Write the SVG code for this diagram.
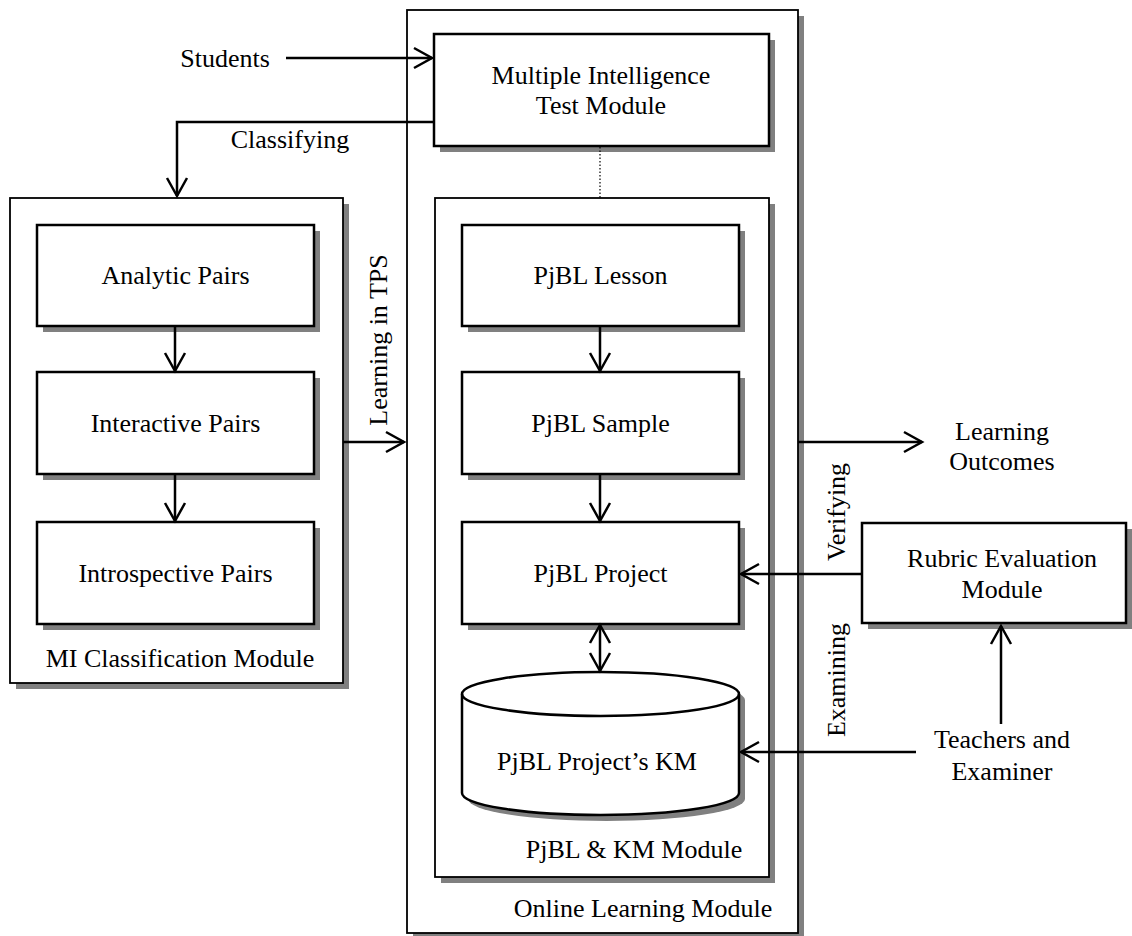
<svg xmlns="http://www.w3.org/2000/svg" width="1132" height="936" viewBox="0 0 1132 936">
<defs>
<style>
text{font-family:"Liberation Serif","Times New Roman",serif;font-size:26px;fill:#000;text-anchor:middle}
.sh{fill:#808080;stroke:none}
.box{fill:#fff;stroke:#000;stroke-width:2.5}
.mod{fill:#fff;stroke:#000;stroke-width:1.8}
.c{fill:none;stroke:#000;stroke-width:2.5}
.dot{fill:none;stroke:#000;stroke-width:1.2;stroke-dasharray:1.5 2}
</style>
<marker id="ah" markerUnits="userSpaceOnUse" markerWidth="24" markerHeight="24" viewBox="-20 -12 24 24" refX="0" refY="0" orient="auto-start-reverse">
<path d="M-18,-10 L0,0 L-18,10" fill="none" stroke="#000" stroke-width="2.5"/>
</marker>
</defs>
<rect width="1132" height="936" fill="#fff"/>

<g id="online-learning-module">
<rect class="sh" x="413" y="16" width="391" height="923"/>
<rect class="mod" x="407" y="10" width="391" height="923"/>
<text x="643" y="917">Online Learning Module</text>
</g>

<g id="mi-classification-module">
<rect class="sh" x="16" y="204" width="333" height="485"/>
<rect class="mod" x="10" y="198" width="333" height="485"/>
<text x="180" y="667">MI Classification Module</text>
</g>

<g id="pjbl-km-module">
<rect class="sh" x="441" y="204" width="334" height="679"/>
<rect class="mod" x="435" y="198" width="334" height="679"/>
<text x="634" y="858">PjBL &amp; KM Module</text>
</g>

<g id="mi-test-module">
<rect class="sh" x="440" y="40" width="335" height="112"/>
<rect class="box" x="434" y="34" width="335" height="112"/>
<text x="601" y="84">Multiple Intelligence</text>
<text x="601" y="114">Test Module</text>
</g>

<g id="analytic-pairs">
<rect class="sh" x="43" y="231" width="277" height="101"/>
<rect class="box" x="37" y="225" width="277" height="101"/>
<text x="175.5" y="284">Analytic Pairs</text>
</g>
<g id="interactive-pairs">
<rect class="sh" x="43" y="378" width="277" height="102"/>
<rect class="box" x="37" y="372" width="277" height="102"/>
<text x="175.5" y="432">Interactive Pairs</text>
</g>
<g id="introspective-pairs">
<rect class="sh" x="43" y="528" width="277" height="102"/>
<rect class="box" x="37" y="522" width="277" height="102"/>
<text x="175.5" y="582">Introspective Pairs</text>
</g>

<g id="pjbl-lesson">
<rect class="sh" x="468" y="231" width="277" height="101"/>
<rect class="box" x="462" y="225" width="277" height="101"/>
<text x="600.5" y="284">PjBL Lesson</text>
</g>
<g id="pjbl-sample">
<rect class="sh" x="468" y="378" width="277" height="102"/>
<rect class="box" x="462" y="372" width="277" height="102"/>
<text x="600.5" y="432">PjBL Sample</text>
</g>
<g id="pjbl-project">
<rect class="sh" x="468" y="528" width="277" height="102"/>
<rect class="box" x="462" y="522" width="277" height="102"/>
<text x="600.5" y="582">PjBL Project</text>
</g>

<g id="pjbl-projects-km">
<path class="sh" d="M468,700 L468,799 A138.5,22 0 0 0 745,799 L745,700 A138.5,22 0 0 0 468,700 Z"/>
<path fill="#fff" stroke="#000" stroke-width="2.5" d="M462,694 L462,793 A138.5,22 0 0 0 739,793 L739,694 A138.5,22 0 0 0 462,694 Z"/>
<path class="c" d="M462,694 A138.5,22 0 0 0 739,694"/>
<text x="597" y="770">PjBL Project’s KM</text>
</g>

<g id="rubric-evaluation-module">
<rect class="sh" x="868" y="529" width="264" height="100"/>
<rect class="box" x="862" y="523" width="264" height="100"/>
<text x="1002" y="567">Rubric Evaluation</text>
<text x="1002" y="598">Module</text>
</g>

<g id="students"><text x="225" y="67">Students</text></g>
<g id="learning-outcomes">
<text x="1002" y="440">Learning</text>
<text x="1002" y="470">Outcomes</text>
</g>
<g id="teachers-and-examiner">
<text x="1002" y="748">Teachers and</text>
<text x="1002" y="780">Examiner</text>
</g>

<g id="connectors">
<path class="c" d="M286,58 L432,58" marker-end="url(#ah)"/>
<path class="c" d="M434,122 L177,122 L177,196" marker-end="url(#ah)"/>
<path class="dot" d="M600,147 L600,198"/>
<path class="c" d="M343,442 L404,442" marker-end="url(#ah)"/>
<path class="c" d="M175,326 L175,371" marker-end="url(#ah)"/>
<path class="c" d="M175,474 L175,521" marker-end="url(#ah)"/>
<path class="c" d="M600,326 L600,371" marker-end="url(#ah)"/>
<path class="c" d="M600,474 L600,521" marker-end="url(#ah)"/>
<path class="c" d="M600,625 L600,671" marker-start="url(#ah)" marker-end="url(#ah)"/>
<path class="c" d="M798,442 L922,442" marker-end="url(#ah)"/>
<path class="c" d="M862,574 L741,574" marker-end="url(#ah)"/>
<path class="c" d="M916,752 L741,752" marker-end="url(#ah)"/>
<path class="c" d="M1001,724 L1001,626" marker-end="url(#ah)"/>
<text x="290" y="148">Classifying</text>
<text transform="translate(387,340) rotate(-90)" x="0" y="0">Learning in TPS</text>
<text transform="translate(845,512) rotate(-90)" x="0" y="0">Verifying</text>
<text transform="translate(845,680) rotate(-90)" x="0" y="0">Examining</text>
</g>
</svg>
